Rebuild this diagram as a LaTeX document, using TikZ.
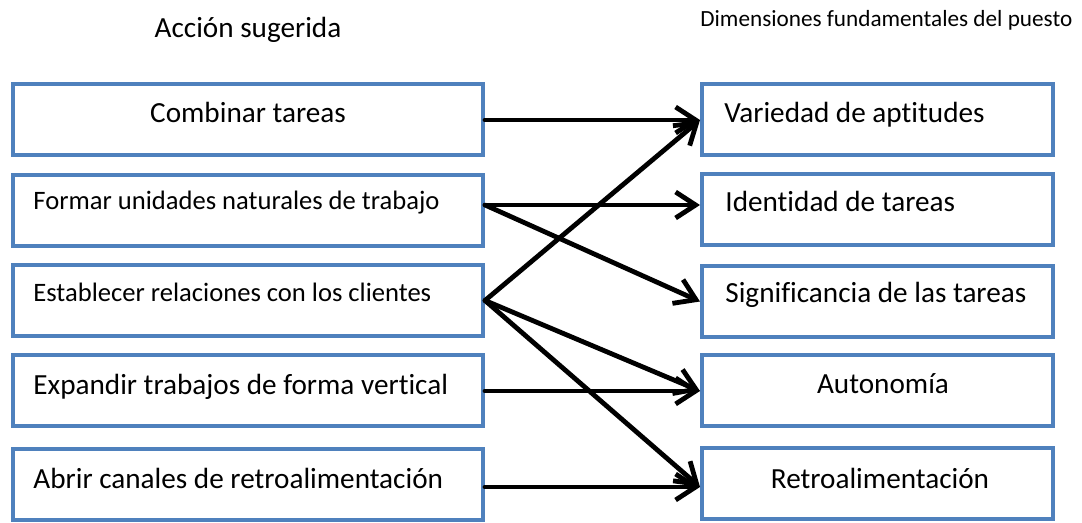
\documentclass[tikz,border=0pt]{standalone}
\usepackage{fontspec}
\setmainfont{Carlito}[RawFeature=-liga]
\usetikzlibrary{arrows.meta}
\definecolor{boxblue}{RGB}{79,129,189}

\begin{document}
\begin{tikzpicture}
        [x=.5pt,y=-.5pt,
         box/.style={rectangle,draw=boxblue,line width=2pt,minimum height=35.5pt,inner sep=0pt},
         lbox/.style={box,minimum width=235pt},
         rbox/.style={box,minimum width=175.5pt},
         big/.style={inner sep=0pt,font=\fontsize{14.6}{17}\selectfont},
         mid/.style={inner sep=0pt,font=\fontsize{13.3}{16}\selectfont},
         arr/.style={-{Straight Barb[length=10pt,width=13pt]},line width=2.4pt,line cap=round,line join=round}]
        \useasboundingbox (0,0) rectangle (1082,523);

        \node[big,anchor=base] (hleft) at (248,38) {Acción sugerida};
        \node[inner sep=0pt,anchor=base west,font=\fontsize{11.6}{14}\selectfont] (hright) at (700,27) {Dimensiones fundamentales del puesto};

        \node[lbox] (l1) at (248,120) {};
        \node[lbox] (l2) at (248,210.5) {};
        \node[lbox] (l3) at (248,300.5) {};
        \node[lbox] (l4) at (248,391) {};
        \node[lbox] (l5) at (248,484.5) {};

        \node[rbox] (r1) at (877.5,120) {};
        \node[rbox] (r2) at (877.5,210) {};
        \node[rbox] (r3) at (877.5,301.5) {};
        \node[rbox] (r4) at (877.5,391) {};
        \node[rbox] (r5) at (877.5,484) {};

        \node[big,anchor=base] (lt1) at (248,123) {Combinar tareas};
        \node[mid,anchor=base west] (lt2) at (33,210) {Formar unidades naturales de trabajo};
        \node[mid,anchor=base west] (lt3) at (33,302) {Establecer relaciones con los clientes};
        \node[big,anchor=base west] (lt4) at (33,395) {Expandir trabajos de forma vertical};
        \node[big,anchor=base west] (lt5) at (33,488) {Abrir canales de retroalimentación};

        \node[big,anchor=base west] (rt1) at (724,123) {Variedad de aptitudes};
        \node[big,anchor=base west] (rt2) at (725,212) {Identidad de tareas};
        \node[big,anchor=base west] (rt3) at (725,303) {Significancia de las tareas};
        \node[big,anchor=base] (rt4) at (883,394) {Autonomía};
        \node[big,anchor=base] (rt5) at (880,488) {Retroalimentación};

        \path (l2.east) ++(0,-5.5) coordinate (l2o);
        \path (r2.west) ++(0,-5) coordinate (r2i);
        \path (l5.east) ++(0,2.5) coordinate (l5o);
        \path (r5.west) ++(0,3) coordinate (r5i);

        \foreach \from/\to in {l1.east/r1.west, l2o/r2i, l2o/r3.west, l3.east/r1.west,
            l3.east/r4.west, l3.east/r5i, l4.east/r4.west, l5o/r5i}
            \draw[arr] (\from) -- (\to);

      \end{tikzpicture}
\end{document}
